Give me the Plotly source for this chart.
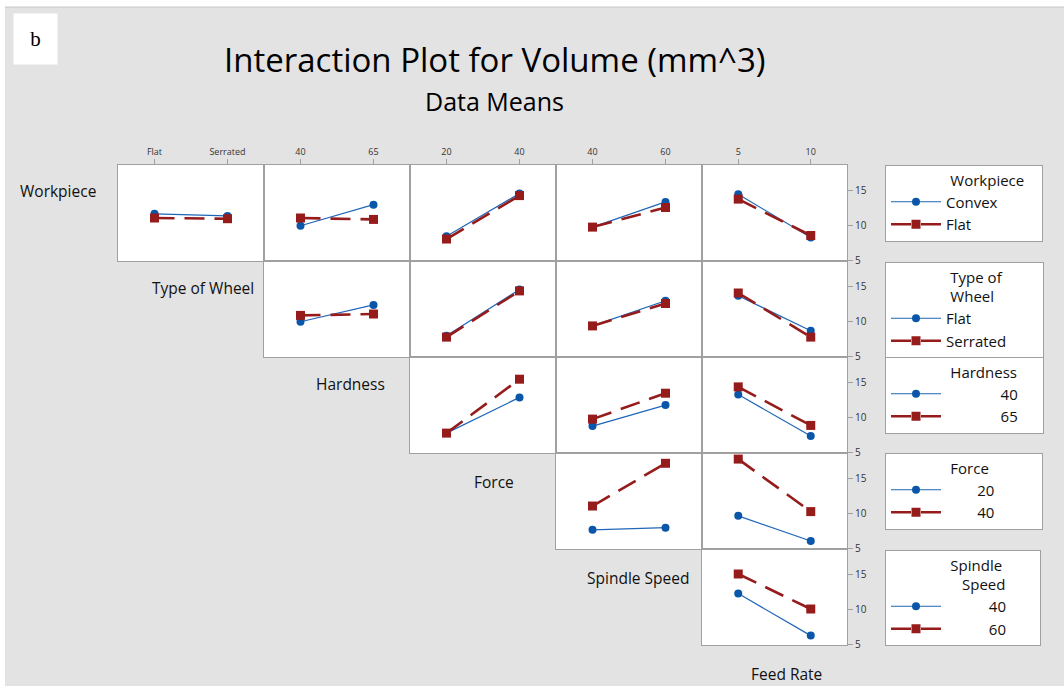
import plotly.graph_objects as go

# ---------------- data ----------------
factors = ["Workpiece", "Type of Wheel", "Hardness", "Force", "Spindle Speed", "Feed Rate"]
workpiece_levels = ["Convex", "Flat"]
wheel_levels = ["Flat", "Serrated"]
hardness_levels = ["40", "65"]
force_levels = ["20", "40"]
spindle_levels = ["40", "60"]
feed_levels = ["5", "10"]

# means per panel (row = legend factor, panels = x factors to the right)
workpiece_convex = [[11.6, 11.3], [9.9, 12.9], [8.4, 14.5], [9.7, 13.3], [14.4, 8.2]]
workpiece_flat = [[11.0, 10.9], [11.0, 10.8], [8.0, 14.2], [9.7, 12.5], [13.7, 8.5]]
wheel_flat = [[9.9, 12.3], [7.9, 14.5], [9.3, 12.9], [13.6, 8.6]]
wheel_serrated = [[10.8, 11.0], [7.7, 14.3], [9.3, 12.5], [14.0, 7.7]]
hardness_40 = [[7.7, 12.8], [8.7, 11.7], [13.2, 7.3]]
hardness_65 = [[7.7, 15.4], [9.7, 13.4], [14.3, 8.8]]
force_20 = [[7.6, 7.9], [9.6, 6.0]]
force_40 = [[11.0, 17.1], [17.7, 10.2]]
spindle_40 = [[12.2, 6.2]]
spindle_60 = [[15.0, 10.0]]

y_ticks = [5, 10, 15]

# ---------------- layout / style ----------------
W, H = 1064, 686
BG = "#e3e3e3"
BORDER = "#a0a0a0"
BLUE = "#1f66b8"
BLUE_M = "#0a56a8"
RED = "#961b1b"
FONT = "Open Sans"
TXT = "#111111"

col_edges = [118, 264, 410, 556, 702, 847]
row_edges = [165, 261, 357, 453, 549, 645]
y_range = [4.86, 18.57]

x_levels = [wheel_levels, hardness_levels, force_levels, spindle_levels, feed_levels]
rows = [
    (workpiece_convex, workpiece_flat),
    (wheel_flat, wheel_serrated),
    (hardness_40, hardness_65),
    (force_20, force_40),
    (spindle_40, spindle_60),
]

NB = "\u00a0"
LEAD = NB * 16
legend_titles = [
    LEAD + "Workpiece" + NB * 4,
    LEAD + "Type of" + NB * 10 + "<br>" + LEAD + "Wheel",
    LEAD + "Hardness" + NB * 6,
    LEAD + "Force" + NB * 13,
    LEAD + "Spindle" + NB * 9 + "<br>" + LEAD + NB * 3 + "Speed",
]
legend_names = [
    ["Convex", "Flat"],
    ["Flat", "Serrated"],
    [NB * 14 + "40", NB * 14 + "65"],
    [NB * 8 + "20", NB * 8 + "40"],
    [NB * 11 + "40", NB * 11 + "60"],
]
legend_tops = [165, 262, 357, 453, 550]

fig = go.Figure()
layout = {}
k = 0
for r, (low, high) in enumerate(rows):
    leg = "legend" if r == 0 else f"legend{r + 1}"
    for j, c in enumerate(range(r, 5)):
        k += 1
        xa = "x" if k == 1 else f"x{k}"
        ya = "y" if k == 1 else f"y{k}"
        xlv = x_levels[c]
        fig.add_trace(go.Scatter(
            x=xlv, y=low[j], xaxis=xa, yaxis=ya, mode="lines+markers",
            line=dict(color=BLUE, width=1.2),
            marker=dict(symbol="circle", size=8, color=BLUE_M),
            name=legend_names[r][0], legend=leg, legendgroup=f"r{r}a",
            showlegend=(j == 0), hoverinfo="x+y"))
        fig.add_trace(go.Scatter(
            x=xlv, y=high[j], xaxis=xa, yaxis=ya, mode="lines+markers",
            line=dict(color=RED, width=2.6, dash="20px,10px"),
            marker=dict(symbol="square", size=9, color=RED),
            name=legend_names[r][1], legend=leg, legendgroup=f"r{r}b",
            showlegend=(j == 0), hoverinfo="x+y"))
        xd = [col_edges[c] / W, col_edges[c + 1] / W]
        yd = [1 - row_edges[r + 1] / H, 1 - row_edges[r] / H]
        xkey = "xaxis" if k == 1 else f"xaxis{k}"
        ykey = "yaxis" if k == 1 else f"yaxis{k}"
        top = (r == 0)
        right = (c == 4)
        layout[xkey] = dict(
            domain=xd, anchor=ya, type="category", range=[-0.5, 1.5],
            categoryorder="array", categoryarray=xlv, automargin=False,
            showline=True, mirror=True, linecolor=BORDER, linewidth=1,
            showgrid=False, zeroline=False, fixedrange=True,
            side="top", showticklabels=top, ticks="outside" if top else "",
            ticklen=5, tickcolor=BORDER,
            tickfont=dict(family=FONT, size=9, color="#333333"),
        )
        layout[ykey] = dict(
            domain=yd, anchor=xa, range=y_range, tickvals=y_ticks, automargin=False,
            showline=True, mirror=True, linecolor=BORDER, linewidth=1,
            showgrid=False, zeroline=False, fixedrange=True,
            side="right", showticklabels=right, ticks="outside" if right else "",
            ticklen=5, tickcolor=BORDER,
            tickfont=dict(family=FONT, size=10, color="#333333"),
        )

# legends
for r in range(5):
    leg = "legend" if r == 0 else f"legend{r + 1}"
    layout[leg] = dict(
        x=885 / W, y=1 - legend_tops[r] / H, xanchor="left", yanchor="top",
        bgcolor="white", bordercolor=BORDER, borderwidth=1,
        itemwidth=50, tracegroupgap=0,
        font=dict(family=FONT, size=15, color=TXT),
        title=dict(text=legend_titles[r], side="top",
                   font=dict(family=FONT, size=15, color=TXT)),
        itemclick=False, itemdoubleclick=False,
    )

annotations = []
diag_pos = [(58, 191), (203, 288), (350, 384), (494, 482), (638, 578), (786, 674)]
for name, (px, py) in zip(factors, diag_pos):
    annotations.append(dict(
        text=name, x=px / W, y=1 - py / H, xref="paper", yref="paper",
        xanchor="center", yanchor="middle", showarrow=False,
        font=dict(family=FONT, size=15.5, color=TXT)))

annotations.append(dict(
    text="Interaction Plot for Volume (mm^3)", x=495 / W, y=1 - 59.5 / H,
    xref="paper", yref="paper", xanchor="center", yanchor="middle",
    showarrow=False, borderpad=0,
    font=dict(family=FONT, size=33, color="#000000")))
annotations.append(dict(
    text="Data Means", x=494 / W, y=1 - 100.5 / H,
    xref="paper", yref="paper", xanchor="center", yanchor="middle",
    showarrow=False, borderpad=0,
    font=dict(family=FONT, size=25, color="#000000")))
annotations.append(dict(
    text="b", x=35 / W, y=1 - 39 / H, xref="paper", yref="paper",
    xanchor="center", yanchor="middle", showarrow=False,
    bgcolor="white", width=41, height=48,
    font=dict(family="Liberation Serif", size=21, color="black")))

shapes = [
    dict(type="rect", xref="paper", yref="paper", x0=0, x1=1,
         y0=1 - 7 / H, y1=1, fillcolor="white", line=dict(width=0), layer="below"),
    dict(type="line", xref="paper", yref="paper", x0=0, x1=1,
         y0=1 - 7 / H, y1=1 - 7 / H, line=dict(color="#c8c8c8", width=1), layer="below"),
    dict(type="rect", xref="paper", yref="paper", x0=0, x1=5 / W,
         y0=0, y1=1, fillcolor="white", line=dict(width=0), layer="below"),
]

fig.update_layout(
    width=W, height=H, autosize=False, margin=dict(l=0, r=0, t=0, b=0, pad=0),
    paper_bgcolor=BG, plot_bgcolor="white",
    annotations=annotations, shapes=shapes, showlegend=True,
    **layout,
)

fig.write_html("out.html")
